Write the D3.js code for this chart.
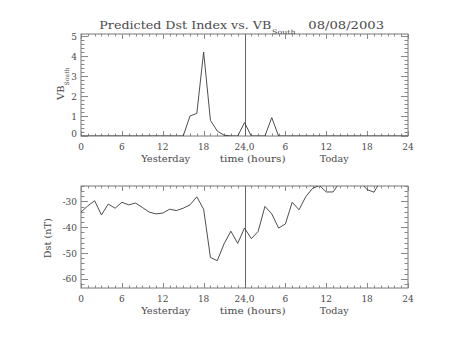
<!DOCTYPE html>
<html><head><meta charset="utf-8">
<script src="https://cdn.jsdelivr.net/npm/d3@7"></script>
<style>body{margin:0;background:#fff}svg{display:block}text{font-family:"DejaVu Serif",serif;fill:#4a4a4a}</style>
</head><body><svg id="c" width="453" height="340"></svg>
<script>
const hours = d3.range(0, 49);
const xTickValues = [0, 6, 12, 18, 24, 30, 36, 42, 48];
const xTickLabels = ["0", "6", "12", "18", "24,0", "6", "12", "18", "24"];
const vbTicks = [0, 1, 2, 3, 4, 5];
const dstTicks = [-60, -50, -40, -30];
const vbSouth = [0,0,0,0,0,0,0,0,0,0,0,0,0,0,0,0,1.0,1.13,4.2,0.78,0.25,0.04,0,0,0.67,0,0,0,0.92,0,0,0,0,0,0,0,0,0,0,0,0,0,0,0,0,0,0,0,0];
const dst = [-34.1,-31.7,-29.7,-35.2,-31.0,-32.6,-30.3,-31.3,-30.6,-32.3,-34.1,-34.8,-34.5,-33.0,-33.5,-32.6,-31.3,-28.2,-33.0,-51.7,-52.9,-46.4,-41.5,-46.2,-40.3,-44.4,-41.6,-31.9,-34.8,-40.3,-38.7,-30.3,-33.2,-28.1,-24.9,-23.8,-26.3,-26.3,-22.5,-21.0,-21.5,-22.5,-25.4,-26.4,-22.0,-21.0,-21.5,-22.0,-21.0];
const subLabels = ["Yesterday", "time (hours)", "Today"];

const svg = d3.select("#c");
const L = 81, R = 408;
const x = d3.scaleLinear().domain([0, 48]).range([L, R]);
const col = "#3a3a3a";

function panel(top, bottom, yDomain, majors, minorStep, data, id) {
  const y = d3.scaleLinear().domain(yDomain).range([bottom, top]);
  const g = svg.append("g");
  g.append("clipPath").attr("id", id).append("rect")
    .attr("x", L).attr("y", top).attr("width", R - L).attr("height", bottom - top);
  g.append("rect").attr("x", L).attr("y", top).attr("width", R - L).attr("height", bottom - top)
    .attr("fill", "none").attr("stroke", "#777").attr("stroke-width", 1);
  hours.forEach(h => {
    const len = h % 6 === 0 ? 5 : 2.5;
    const xx = Math.round(x(h)) + 0.5;
    g.append("line").attr("x1", xx).attr("x2", xx).attr("y1", bottom).attr("y2", bottom - len).attr("stroke", "#888");
    g.append("line").attr("x1", xx).attr("x2", xx).attr("y1", top).attr("y2", top + len).attr("stroke", "#888");
  });
  const minors = d3.range(Math.ceil(yDomain[0] / minorStep) * minorStep, yDomain[1] + 1e-9, minorStep);
  minors.forEach(v => {
    const isMaj = majors.some(m => Math.abs(m - v) < 1e-6);
    const len = isMaj ? 7 : 3.5;
    const yy = Math.round(y(v)) + 0.5;
    g.append("line").attr("x1", L).attr("x2", L + len).attr("y1", yy).attr("y2", yy).attr("stroke", "#888");
    g.append("line").attr("x1", R).attr("x2", R - len).attr("y1", yy).attr("y2", yy).attr("stroke", "#888");
  });
  majors.forEach(v => {
    g.append("text").attr("x", 77).attr("y", y(v) + 3.5 - (v === 0 ? 3 : 0)).attr("text-anchor", "end")
      .attr("font-size", 9).text(v);
  });
  xTickValues.forEach((v, i) => {
    g.append("text").attr("x", x(v)).attr("y", bottom + 13.5).attr("text-anchor", "middle")
      .attr("font-size", 9).text(xTickLabels[i]);
  });
  const subX = [165.7, 252.7, 334.3];
  const subW = [49, 65.7, 29];
  subLabels.forEach((s, i) => {
    g.append("text").attr("x", subX[i] - subW[i] / 2).attr("y", bottom + 25.5)
      .attr("font-size", 9).attr("textLength", subW[i]).attr("lengthAdjust", "spacingAndGlyphs").text(s);
  });
  g.append("line").attr("x1", Math.round(x(24)) + 0.5).attr("x2", Math.round(x(24)) + 0.5)
    .attr("y1", top).attr("y2", bottom).attr("stroke", "#666");
  const line = d3.line().x((d, i) => x(hours[i])).y(d => y(d));
  g.append("path").datum(data).attr("d", line).attr("fill", "none").attr("stroke", col)
    .attr("stroke-width", 0.9).attr("clip-path", `url(#${id})`);
  return y;
}

panel(34, 136, [0, 5.1], vbTicks, 0.2, vbSouth, "c1");
panel(186, 288, [-63.5, -24], dstTicks, 2, dst, "c2");

svg.append("text").attr("x", 99.3).attr("y", 29).attr("font-size", 11.5)
  .attr("textLength", 172).attr("lengthAdjust", "spacingAndGlyphs").text("Predicted Dst Index vs. VB");
svg.append("text").attr("x", 272).attr("y", 34).attr("font-size", 6)
  .attr("textLength", 23.5).attr("lengthAdjust", "spacingAndGlyphs").text("South");
svg.append("text").attr("x", 308.3).attr("y", 29).attr("font-size", 11.5)
  .attr("textLength", 75.7).attr("lengthAdjust", "spacingAndGlyphs").text("08/08/2003");

const yl = svg.append("text").attr("transform", "translate(63.5,100) rotate(-90)");
yl.append("tspan").attr("font-size", 10).text("VB");
yl.append("tspan").attr("font-size", 6).attr("dy", 5).text("South");
svg.append("text").attr("transform", "translate(51,258.3) rotate(-90)").attr("font-size", 9.5)
  .attr("textLength", 40).attr("lengthAdjust", "spacingAndGlyphs").text("Dst (nT)");
</script></body></html>
